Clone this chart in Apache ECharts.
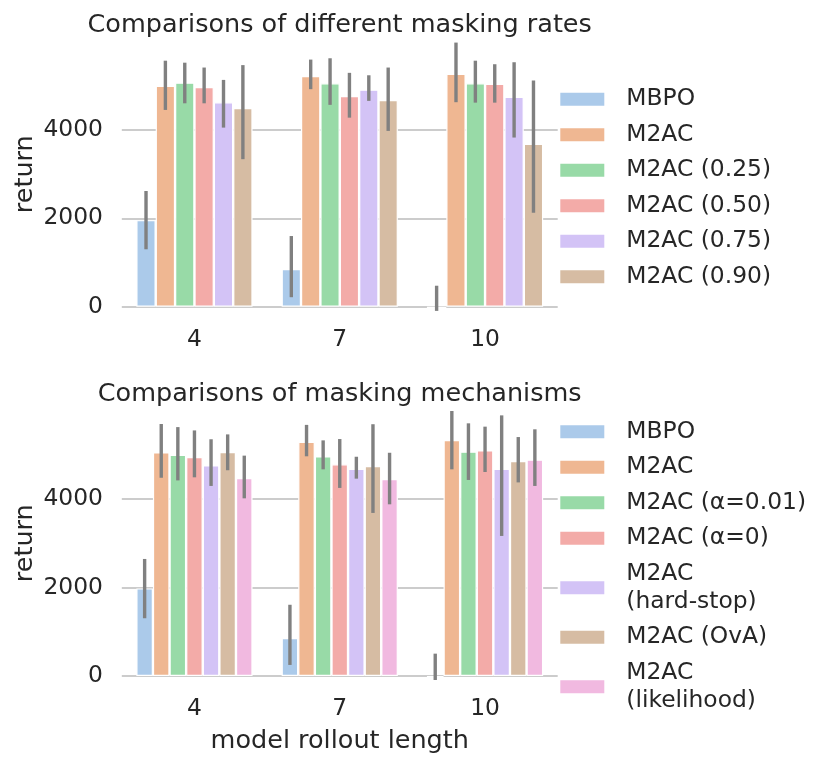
<!DOCTYPE html>
<html>
<head>
<meta charset="utf-8">
<script src="https://cdn.jsdelivr.net/npm/echarts@6/dist/echarts.min.js"></script>
<style>html,body{margin:0;padding:0;background:#fff;}#chart{width:830px;height:765px;}</style>
</head>
<body>
<div id="chart"></div>
<script>
const categories = ['4', '7', '10'];
const yTicks = [0, 2000, 4000];

const topTitle = 'Comparisons of different masking rates';
const bottomTitle = 'Comparisons of masking mechanisms';
const yLabel = 'return';
const xLabel = 'model rollout length';

const topNames = ['MBPO', 'M2AC', 'M2AC (0.25)', 'M2AC (0.50)', 'M2AC (0.75)', 'M2AC (0.90)'];
const topMean = [
  [1960, 855, -35],
  [5000, 5225, 5275],
  [5075, 5060, 5060],
  [4975, 4770, 5045],
  [4630, 4915, 4750],
  [4500, 4680, 3690]
];
const topLow = [
  [1300, 215, -95],
  [4455, 4925, 4630],
  [4605, 4570, 4620],
  [4605, 4280, 4620],
  [4055, 4660, 3830],
  [3340, 3980, 2130]
];
const topHigh = [
  [2620, 1600, 475],
  [5570, 5595, 5980],
  [5525, 5625, 5570],
  [5415, 5295, 5490],
  [5135, 5240, 5535],
  [5470, 5415, 5120]
];

const bottomNames = ['MBPO', 'M2AC', 'M2AC (\u03b1=0.01)', 'M2AC (\u03b1=0)', 'M2AC\n(hard-stop)', 'M2AC (OvA)', 'M2AC\n(likelihood)'];
const bottomMean = [
  [1980, 860, -38],
  [5055, 5290, 5335],
  [5000, 4965, 5070],
  [4950, 4785, 5100],
  [4760, 4680, 4680],
  [5060, 4745, 4860],
  [4475, 4450, 4890]
];
const bottomLow = [
  [1305, 250, -90],
  [4480, 4965, 4670],
  [4420, 4670, 4430],
  [4490, 4250, 4610],
  [4295, 4460, 3165],
  [4650, 3685, 4375],
  [4015, 3880, 4295]
];
const bottomHigh = [
  [2645, 1610, 505],
  [5695, 5675, 5989],
  [5625, 5325, 5710],
  [5550, 5355, 5635],
  [5350, 4955, 5890],
  [5460, 5690, 5400],
  [4980, 5045, 5575]
];

const colors = ['#abcaea', '#efb792', '#98daa7', '#f3aba8', '#d3c3f6', '#d6bca3', '#f1b9e0'];
const textColor = '#262626';
const fontFamily = 'DejaVu Sans';
const tickSize = 23.4;
const labelSize = 25.5;

const grids = [
  { left: 121.8, width: 435.9, top: 41.7, height: 265.0, containLabel: false, outerBoundsMode: 'none' },
  { left: 121.8, width: 435.9, top: 410.5, height: 265.5, containLabel: false, outerBoundsMode: 'none' }
];

function makeX(gi) {
  return {
    type: 'category', gridIndex: gi, data: categories,
    axisLine: { show: false }, axisTick: { show: false },
    axisLabel: { color: textColor, fontSize: tickSize, fontFamily: fontFamily, margin: 21.5 },
    name: gi === 1 ? xLabel : '',
    nameLocation: 'middle', nameGap: 52, nameMoveOverlap: false,
    nameTextStyle: { color: textColor, fontSize: labelSize, fontFamily: fontFamily }
  };
}
function makeY(gi) {
  return {
    type: 'value', gridIndex: gi, min: yTicks[0], max: 6000, interval: yTicks[1] - yTicks[0],
    axisLine: { show: false }, axisTick: { show: false },
    axisLabel: { color: textColor, fontSize: tickSize, fontFamily: fontFamily, margin: 18.8, showMaxLabel: false,
      formatter: function (v) { return String(v); } },
    splitLine: { show: true, showMaxLine: false, lineStyle: { color: '#cccccc', width: 2 } },
    name: yLabel, nameLocation: 'middle', nameGap: 83, nameRotate: 90, nameMoveOverlap: false,
    nameTextStyle: { color: textColor, fontSize: labelSize, fontFamily: fontFamily }
  };
}

function errRender(n, k) {
  return function (params, api) {
    const c = api.value(0);
    const lo = api.coord([c, api.value(1)]);
    const hi = api.coord([c, api.value(2)]);
    const band = api.size([1, 0])[0];
    const bw = band * 0.8 / n;
    const x = lo[0] + (k - (n - 1) / 2) * bw;
    return {
      type: 'line',
      shape: { x1: x, y1: lo[1], x2: x, y2: hi[1] },
      style: { stroke: '#808080', lineWidth: 3.4 }
    };
  };
}

const series = [];
function addChart(gi, names, means, lows, highs) {
  const n = names.length;
  names.forEach(function (nm, k) {
    series.push({
      type: 'bar', name: nm, xAxisIndex: gi, yAxisIndex: gi,
      data: means[k], clip: false,
      barGap: '0%', barCategoryGap: '20%',
      itemStyle: { color: colors[k], borderColor: '#ffffff', borderWidth: 1.2 },
      emphasis: { disabled: true }, z: 2
    });
  });
  names.forEach(function (nm, k) {
    series.push({
      type: 'custom', xAxisIndex: gi, yAxisIndex: gi, clip: false, z: 5,
      renderItem: errRender(n, k),
      encode: { x: 0, y: [1, 2] },
      data: categories.map(function (c, i) { return [i, lows[k][i], highs[k][i]]; })
    });
  });
}
addChart(0, topNames, topMean, topLow, topHigh);
addChart(1, bottomNames, bottomMean, bottomLow, bottomHigh);

function makeLegend(names, top) {
  return {
    data: names, orient: 'vertical', left: 558.3, top: top,
    itemWidth: 46, itemHeight: 15, itemGap: 7.5, icon: 'rect', padding: 0,
    selectedMode: false,
    textStyle: { color: textColor, fontSize: tickSize, fontFamily: fontFamily, lineHeight: 28, padding: [0, 0, 0, 16] }
  };
}

const option = {
  animation: false,
  backgroundColor: '#ffffff',
  title: [
    { text: topTitle, left: 339.7, top: 12, textAlign: 'center', padding: 0,
      textStyle: { color: textColor, fontSize: labelSize, fontWeight: 'normal', fontFamily: fontFamily } },
    { text: bottomTitle, left: 339.7, top: 381, textAlign: 'center', padding: 0,
      textStyle: { color: textColor, fontSize: labelSize, fontWeight: 'normal', fontFamily: fontFamily } }
  ],
  legend: [makeLegend(topNames, 85.3), makeLegend(bottomNames, 417.7)],
  grid: grids,
  xAxis: [makeX(0), makeX(1)],
  yAxis: [makeY(0), makeY(1)],
  series: series
};

const chart = echarts.init(document.getElementById('chart'));
chart.setOption(option);
</script>
</body>
</html>
